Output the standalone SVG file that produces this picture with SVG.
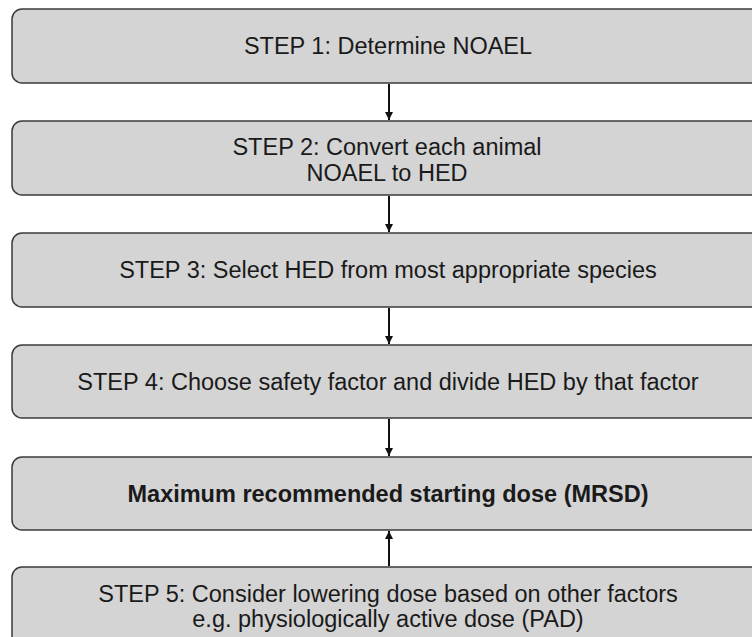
<svg xmlns="http://www.w3.org/2000/svg" width="752" height="637" viewBox="0 0 752 637">
<style>
.box{fill:#d4d4d4;stroke:#3a3a3a;stroke-width:1.5}
.t{font-family:"Liberation Sans",Arial,sans-serif;font-size:23.5px;fill:#1a1a1a;text-anchor:middle}
.b{font-weight:bold}
.c{stroke:#111;stroke-width:2;fill:none;marker-end:url(#ah)}
</style>
<defs>
<marker id="ah" viewBox="0 0 10 10" refX="10" refY="5" markerWidth="9" markerHeight="8" orient="auto" markerUnits="userSpaceOnUse">
<path d="M0,0 L10,5 L0,10 z" fill="#111"/>
</marker>
</defs>
<rect width="752" height="637" fill="#fff"/>
<g id="step1"><rect class="box" x="12" y="9" width="756" height="74" rx="10"/><text class="t" x="388" y="54">STEP 1: Determine NOAEL</text></g>
<g id="step2"><rect class="box" x="12" y="121" width="756" height="74" rx="10"/><text class="t" x="387" y="155">STEP 2: Convert each animal</text><text class="t" x="387" y="181">NOAEL to HED</text></g>
<g id="step3"><rect class="box" x="12" y="233" width="756" height="74" rx="10"/><text class="t" x="388" y="278">STEP 3: Select HED from most appropriate species</text></g>
<g id="step4"><rect class="box" x="12" y="345" width="756" height="73" rx="10"/><text class="t" x="388" y="390">STEP 4: Choose safety factor and divide HED by that factor</text></g>
<g id="mrsd"><rect class="box" x="12" y="457" width="756" height="73" rx="10"/><text class="t b" x="388" y="502">Maximum recommended starting dose (MRSD)</text></g>
<g id="step5"><rect class="box" x="12" y="567" width="756" height="82" rx="10"/><text class="t" x="388" y="602">STEP 5: Consider lowering dose based on other factors</text><text class="t" x="388" y="627">e.g. physiologically active dose (PAD)</text></g>
<g id="connectors">
<line class="c" x1="389" y1="84" x2="389" y2="120"/>
<line class="c" x1="389" y1="196" x2="389" y2="232"/>
<line class="c" x1="389" y1="308" x2="389" y2="344"/>
<line class="c" x1="389" y1="419" x2="389" y2="456"/>
<line class="c" x1="389" y1="566" x2="389" y2="531"/>
</g>
</svg>
